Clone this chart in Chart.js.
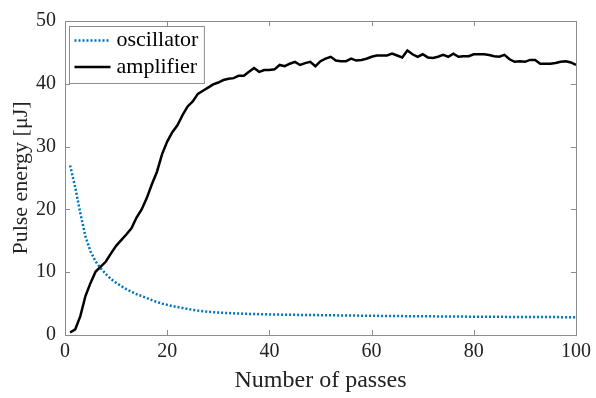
<!DOCTYPE html>
<html lang="en">
  <head>
    <meta charset="UTF-8" />
    <title>Pulse energy vs passes</title>
    <style>
      body {
        margin: 0;
        background: #fff;
      }
    </style>
    <script src="https://cdn.jsdelivr.net/npm/chart.js"></script>
  </head>
  <body>
    <canvas id="chart" width="596" height="398"></canvas>
    <script>
      var passes = Array.from({ length: 100 }, (_, i) => i + 1);

      var oscillator = [
        27.0, 23.5, 19.4, 15.7, 13.3, 11.7, 10.6, 9.7, 8.9, 8.3,
        7.8, 7.3, 6.9, 6.5, 6.2, 5.9, 5.55, 5.25, 5.0, 4.8,
        4.6, 4.45, 4.3, 4.15, 4.0, 3.88, 3.78, 3.7, 3.64, 3.58,
        3.53, 3.49, 3.45, 3.42, 3.39, 3.36, 3.34, 3.32, 3.3, 3.28,
        3.26, 3.25, 3.23, 3.22, 3.21, 3.2, 3.19, 3.18, 3.17, 3.16,
        3.15, 3.14, 3.13, 3.12, 3.11, 3.1, 3.09, 3.08, 3.07, 3.06,
        3.05, 3.04, 3.04, 3.03, 3.02, 3.01, 3.0, 3.0, 2.99, 2.98,
        2.97, 2.97, 2.96, 2.95, 2.95, 2.94, 2.93, 2.93, 2.92, 2.92,
        2.91, 2.91, 2.9, 2.9, 2.89, 2.89, 2.88, 2.88, 2.87, 2.87,
        2.86, 2.86, 2.86, 2.85, 2.85, 2.85, 2.84, 2.84, 2.84, 2.83,
      ];

      var amplifier = [
        0.4, 0.9, 3.0, 6.2, 8.3, 10.1, 10.9, 11.7, 13.0, 14.2,
        15.1, 16.0, 17.0, 18.7, 20.0, 21.8, 24.0, 26.0, 28.8, 30.8,
        32.3, 33.4, 35.0, 36.4, 37.2, 38.4, 38.9, 39.4, 39.9, 40.2,
        40.6, 40.8, 40.9, 41.3, 41.3, 41.9, 42.5, 41.9, 42.2, 42.2,
        42.3, 43.0, 42.8, 43.2, 43.5, 43.0, 43.3, 43.5, 42.8, 43.6,
        44.0, 44.3, 43.7, 43.6, 43.6, 44.0, 43.7, 43.8, 44.0, 44.3,
        44.5, 44.5, 44.5, 44.8, 44.5, 44.2, 45.3, 44.7, 44.3, 44.7,
        44.2, 44.1, 44.3, 44.6, 44.3, 44.8, 44.3, 44.4, 44.4, 44.7,
        44.7, 44.7, 44.6, 44.4, 44.3, 44.6, 43.9, 43.5, 43.6, 43.5,
        43.8, 43.8, 43.2, 43.2, 43.2, 43.3, 43.5, 43.6, 43.4, 43.0,
      ];

      var xTicks = [0, 20, 40, 60, 80, 100];
      var yTicks = [0, 10, 20, 30, 40, 50];

      var serif = "'Liberation Serif', 'DejaVu Serif', serif";
      var frameColor = "#8c8c8c";
      var textColor = "#222";

      function points(values) {
        return values.map((v, i) => ({ x: passes[i], y: v }));
      }

      // box round the plot with inward ticks on all four sides (matlab style)
      var boxPlugin = {
        id: "box",
        afterDatasetsDraw(chart) {
          var ctx = chart.ctx;
          var a = chart.chartArea;
          var xs = chart.scales.x;
          var ys = chart.scales.y;
          var len = 5;
          ctx.save();
          ctx.strokeStyle = frameColor;
          ctx.lineWidth = 1;
          ctx.beginPath();
          xTicks.forEach((t) => {
            var px = Math.round(xs.getPixelForValue(t)) + 0.5;
            ctx.moveTo(px, a.bottom);
            ctx.lineTo(px, a.bottom - len);
            ctx.moveTo(px, a.top);
            ctx.lineTo(px, a.top + len);
          });
          yTicks.forEach((t) => {
            var py = Math.round(ys.getPixelForValue(t)) + 0.5;
            ctx.moveTo(a.left, py);
            ctx.lineTo(a.left + len, py);
            ctx.moveTo(a.right, py);
            ctx.lineTo(a.right - len, py);
          });
          ctx.stroke();
          ctx.strokeRect(
            Math.round(a.left) + 0.5,
            Math.round(a.top) + 0.5,
            Math.round(a.right - a.left),
            Math.round(a.bottom - a.top)
          );

          // legend in the top left corner
          var items = chart.data.datasets;
          ctx.font = "22px " + serif;
          var textW = Math.max(...items.map((d) => ctx.measureText(d.label).width));
          var bx = Math.round(a.left) + 4.5;
          var by = Math.round(a.top) + 5.5;
          var bw = 47 + textW + 6;
          var bh = 57;
          ctx.fillStyle = "#fff";
          ctx.fillRect(bx, by, bw, bh);
          ctx.strokeStyle = frameColor;
          ctx.strokeRect(bx, by, bw, bh);
          items.forEach((d, i) => {
            var cy = by + 14 + i * 26.5;
            ctx.strokeStyle = d.borderColor;
            ctx.lineWidth = d.borderWidth;
            ctx.setLineDash(d.borderDash || []);
            ctx.beginPath();
            ctx.moveTo(bx + 5, cy);
            ctx.lineTo(bx + 41, cy);
            ctx.stroke();
            ctx.setLineDash([]);
            ctx.fillStyle = "#000";
            ctx.textBaseline = "middle";
            ctx.textAlign = "left";
            ctx.fillText(d.label, bx + 47, cy);
          });
          ctx.restore();
        },
      };

      var ctx = document.getElementById("chart").getContext("2d");
      var chart = new Chart(ctx, {
        type: "line",
        data: {
          datasets: [
            {
              label: "oscillator",
              data: points(oscillator),
              borderColor: "#0072BD",
              borderWidth: 2.5,
              borderDash: [2, 2],
              pointRadius: 0,
              fill: false,
              tension: 0,
            },
            {
              label: "amplifier",
              data: points(amplifier),
              borderColor: "#000000",
              borderWidth: 2.5,
              pointRadius: 0,
              fill: false,
              tension: 0,
            },
          ],
        },
        options: {
          responsive: false,
          animation: false,
          devicePixelRatio: 1,
          layout: { padding: { left: 0, right: 17, top: 17, bottom: 0 } },
          plugins: {
            legend: { display: false },
            tooltip: { enabled: false },
          },
          scales: {
            x: {
              type: "linear",
              min: 0,
              max: 100,
              afterBuildTicks(s) {
                s.ticks = xTicks.map((v) => ({ value: v }));
              },
              afterFit(s) {
                s.height = 63;
              },
              grid: { display: false, drawTicks: false },
              border: { display: false },
              ticks: {
                font: { family: serif, size: 20 },
                color: textColor,
                padding: 5,
                maxRotation: 0,
              },
              title: {
                display: true,
                text: "Number of passes",
                font: { family: serif, size: 24 },
                color: textColor,
                padding: 3,
              },
            },
            y: {
              min: 0,
              max: 50,
              afterBuildTicks(s) {
                s.ticks = yTicks.map((v) => ({ value: v }));
              },
              afterFit(s) {
                s.width = 65;
              },
              grid: { display: false, drawTicks: false },
              border: { display: false },
              ticks: {
                font: { family: serif, size: 20 },
                color: textColor,
                padding: 9,
              },
              title: {
                display: true,
                text: "Pulse energy [\u03bcJ]",
                font: { family: serif, size: 22 },
                color: textColor,
                padding: 8,
              },
            },
          },
        },
        plugins: [boxPlugin],
      });
    </script>
  </body>
</html>
